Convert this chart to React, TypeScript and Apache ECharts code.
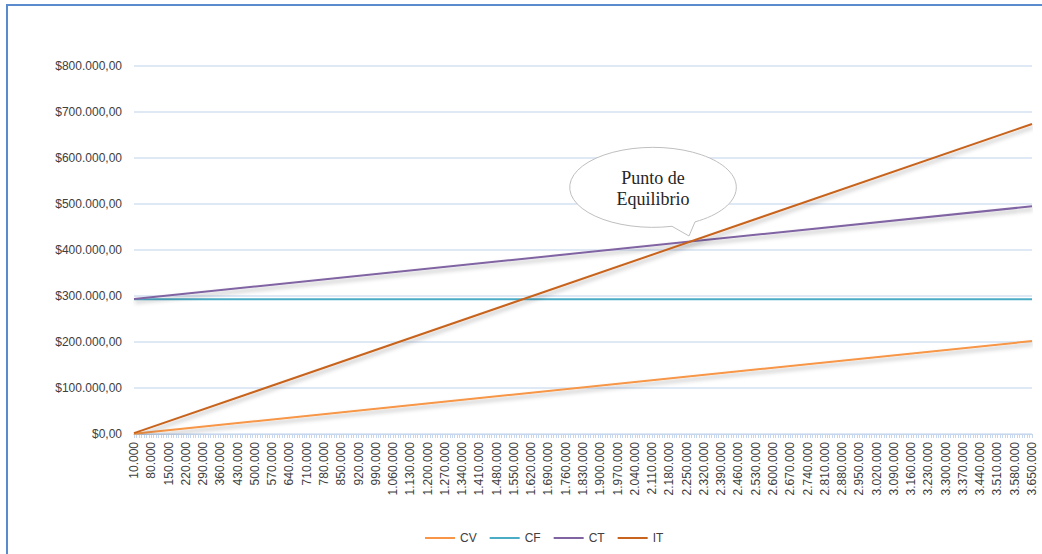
import React, { useEffect, useRef } from "react";
import * as echarts from "echarts";

// Quantities on the x axis (units), step of 10.000
const QTY_START = 10000;
const QTY_END = 3650000;
const QTY_STEP = 10000;

// Series values read at the first and last quantity (all lines are straight)
const endQuantities = [10000, 3650000];
const cvValues = [550, 202000];
const cfValues = [293000, 293000];
const ctValues = [293550, 495000];
const itValues = [1850, 674000];

const seriesNames = ["CV", "CF", "CT", "IT"];
const seriesColors = ["#F79646", "#4BACC6", "#8064A2", "#C8641E"];

const yTicks = [0, 100000, 200000, 300000, 400000, 500000, 600000, 700000, 800000];

const fmtThousands = (n: number) => String(Math.round(n)).replace(/\B(?=(\d{3})+(?!\d))/g, ".");

const categories: string[] = [];
for (let q = QTY_START; q <= QTY_END; q += QTY_STEP) categories.push(fmtThousands(q));

const calloutPath = "M 695 221.9 A 83.3 40 0 1 0 672 226.3 L 689 236 Z";
let registered = false;

export default function App() {
  const ref = useRef<HTMLDivElement>(null);
  useEffect(() => {
    document.body.style.margin = "0";
    if (!registered) {
      echarts.graphic.registerShape("callout", echarts.graphic.extendPath(calloutPath, {}));
      registered = true;
    }
    const chart = echarts.init(ref.current!, undefined, { renderer: "svg" });
    const allValues = [cvValues, cfValues, ctValues, itValues];
    const font = "Liberation Sans";
    chart.setOption({
      animation: false,
      backgroundColor: "#ffffff",
      grid: { left: 134, right: 10, top: 66, bottom: 120, containLabel: false },
      legend: {
        left: 420,
        top: 527,
        icon: "rect",
        itemWidth: 30,
        itemHeight: 2,
        itemGap: 13,
        textStyle: { fontFamily: font, fontSize: 12, color: "#404040" },
        data: seriesNames,
      },
      xAxis: {
        type: "category",
        data: categories,
        boundaryGap: false,
        axisLine: { lineStyle: { color: "#C5D6EE", width: 1 } },
        axisTick: { show: true, interval: 0, length: 4, lineStyle: { color: "#C5D6EE" } },
        axisLabel: {
          interval: 6,
          rotate: 90,
          margin: 8,
          fontFamily: font,
          fontSize: 12,
          color: "#404040",
        },
        splitLine: { show: false },
      },
      yAxis: {
        type: "value",
        min: yTicks[0],
        max: yTicks[yTicks.length - 1],
        interval: yTicks[1] - yTicks[0],
        axisLine: { show: false },
        axisTick: { show: false },
        axisLabel: {
          margin: 12,
          fontFamily: font,
          fontSize: 12,
          color: "#404040",
          formatter: (v: number) => "$" + fmtThousands(v) + ",00",
        },
        splitLine: { lineStyle: { color: "#DFE9F6", width: 2 } },
      },
      series: seriesNames.map((name, i) => {
        const flat = allValues[i][0] === allValues[i][1];
        return {
          name,
          type: "line",
          symbol: "none",
          z: 2 + i,
          color: seriesColors[i],
          lineStyle: flat
            ? { color: seriesColors[i], width: 2 }
            : {
                color: seriesColors[i],
                width: 2,
                shadowColor: "rgba(0,0,0,0.3)",
                shadowBlur: 4,
                shadowOffsetX: 1,
                shadowOffsetY: 3,
              },
          data: endQuantities.map((q, k) => [fmtThousands(q), allValues[i][k]]),
        };
      }),
      graphic: [
        {
          type: "rect",
          silent: true,
          shape: { x: 7, y: 5, width: 1100, height: 600 },
          style: { fill: "none", stroke: "#5B8BCF", lineWidth: 2 },
          z: 100,
        },
        {
          type: "callout",
          x: 0,
          y: 0,
          z: 100,
          style: { fill: "#ffffff", stroke: "#BFBFBF", lineWidth: 1 },
        },
        {
          type: "text",
          x: 653,
          y: 188,
          z: 101,
          style: {
            text: "Punto de\nEquilibrio",
            font: '18px "Liberation Serif"',
            fill: "#262626",
            align: "center",
            verticalAlign: "middle",
            lineHeight: 21,
          },
        },
      ],
    });
    return () => chart.dispose();
  }, []);
  return <div ref={ref} style={{ width: 1042, height: 554 }} />;
}
